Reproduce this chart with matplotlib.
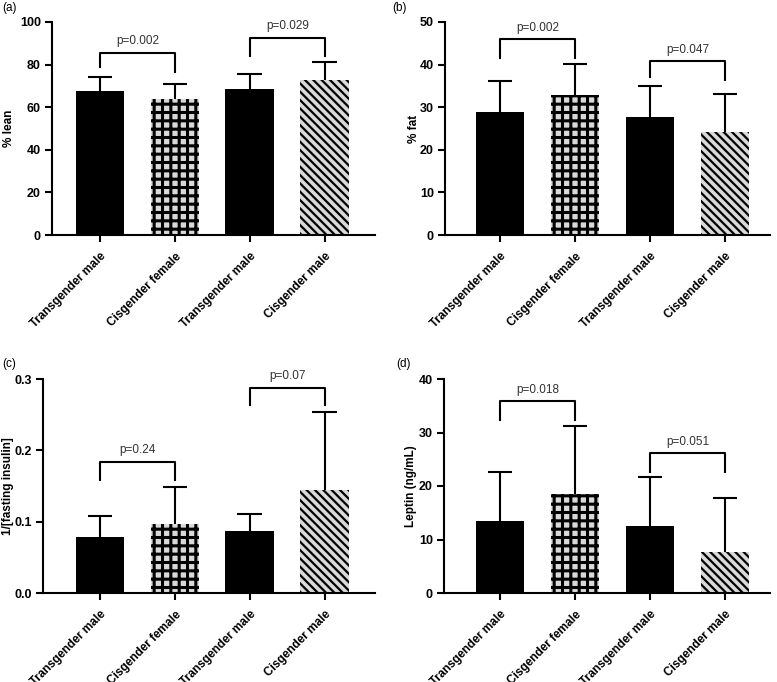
import numpy as np
import matplotlib
matplotlib.use('Agg')
import matplotlib.pyplot as plt

plt.rcParams['font.family'] = ['Liberation Sans', 'DejaVu Sans']

# group labels shared by all four panels
groups = ['Transgender male', 'Cisgender female', 'Transgender male', 'Cisgender male']

# (a) % lean
lean_mean = [67.7, 63.8, 68.5, 72.8]
lean_sd = [6.7, 7.1, 7.1, 8.4]
# (b) % fat
fat_mean = [28.9, 32.9, 27.8, 24.2]
fat_sd = [7.2, 7.2, 7.2, 8.8]
# (c) 1/[fasting insulin]
ins_mean = [0.079, 0.097, 0.087, 0.145]
ins_sd = [0.029, 0.052, 0.024, 0.109]
# (d) leptin
lep_mean = [13.5, 18.45, 12.5, 7.6]
lep_sd = [9.2, 12.8, 9.1, 10.2]

# brackets: (left bar, right bar, top, left leg end, right leg end, text)
lean_p = [(0, 1, 85.6, 79.0, 76.7, 'p=0.002'), (2, 3, 92.6, 84.0, 84.0, 'p=0.029')]
fat_p = [(0, 1, 45.9, 41.5, 41.5, 'p=0.002'), (2, 3, 40.8, 37.0, 36.5, 'p=0.047')]
ins_p = [(0, 1, 0.184, 0.158, 0.158, 'p=0.24'), (2, 3, 0.288, 0.263, 0.263, 'p=0.07')]
lep_p = [(0, 1, 35.8, 32.4, 32.4, 'p=0.018'), (2, 3, 26.1, 22.7, 22.7, 'p=0.051')]

W, H = 777, 682
fig = plt.figure(figsize=(W / 100, H / 100), dpi=100)

def draw(px_left, px_right, px_top, px_bot, xlim, mean, sd, ymax, step, ylabel, label_px,
         pvals, tag, tag_xy, fmt):
    ax = fig.add_axes([px_left / W, 1 - px_bot / H, (px_right - px_left) / W, (px_bot - px_top) / H])
    x = np.arange(4)
    fills = ['black', '#d9d9d9', 'black', '#d9d9d9']
    hatches = [None, '++', None, '\\\\\\\\']
    hlw = [1.0, 2.2, 1.0, 1.6]
    for i in range(4):
        plt.rcParams['hatch.linewidth'] = hlw[i]
        bars = ax.bar(x[i], mean[i], width=0.65, color=fills[i], edgecolor='black',
                      hatch=hatches[i], linewidth=0, zorder=2)
        for b in bars:
            if hasattr(b, 'set_hatch_linewidth'):
                b.set_hatch_linewidth(hlw[i])
    # upper error bars only
    top = np.array(mean) + np.array(sd)
    ax.vlines(x, mean, top, color='black', lw=1.5, zorder=3)
    ax.hlines(top, x - 0.165, x + 0.165, color='black', lw=1.5, zorder=3)
    for a, b, y, la, lb, txt in pvals:
        ax.plot([a, a, b, b], [la, y, y, lb], color='black', lw=1.5, zorder=3, clip_on=False)
        ax.text((a + b) / 2, y + ymax * 0.025, txt, ha='center', va='bottom',
                fontsize=8.5, color='#333333')
    ax.set_xlim(*xlim)
    ax.set_ylim(0, ymax)
    yt = np.arange(0, ymax + step / 2, step)
    ax.set_yticks(yt)
    ax.set_yticklabels([fmt.format(v) for v in yt], fontweight='bold', fontsize=9)
    ax.set_xticks(x)
    ax.set_xticklabels(groups, rotation=45, ha='right', rotation_mode='anchor',
                       fontweight='bold', fontsize=8.5)
    ax.tick_params(axis='both', width=1.5, length=5, pad=3)
    ax.tick_params(axis='x', pad=6)
    for s in ['top', 'right']:
        ax.spines[s].set_visible(False)
    for s in ['left', 'bottom']:
        ax.spines[s].set_linewidth(1.5)
    ax.set_ylabel(ylabel, fontweight='bold', fontsize=8.5)
    ax.yaxis.set_label_coords((label_px - px_left) / (px_right - px_left), 0.5)
    fig.text(tag_xy[0] / W, 1 - tag_xy[1] / H, tag, fontsize=8.5, va='center', ha='left')
    return ax

draw(52, 375, 22, 235, (-0.64, 3.67), lean_mean, lean_sd, 100, 20, '% lean', 15,
     lean_p, '(a)', (2, 8), '{:.0f}')
draw(445, 770, 22, 235, (-0.733, 3.6), fat_mean, fat_sd, 50, 10, '% fat', 420,
     fat_p, '(b)', (392, 8), '{:.0f}')
draw(43, 375, 379, 593, (-0.76, 3.67), ins_mean, ins_sd, 0.3, 0.1, '1/[fasting insulin]', 14,
     ins_p, '(c)', (2, 364), '{:.1f}')
draw(444, 770, 379, 593, (-0.747, 3.6), lep_mean, lep_sd, 40, 10, 'Leptin (ng/mL)', 417,
     lep_p, '(d)', (396, 364), '{:.0f}')

fig.savefig('out.png', dpi=100)
